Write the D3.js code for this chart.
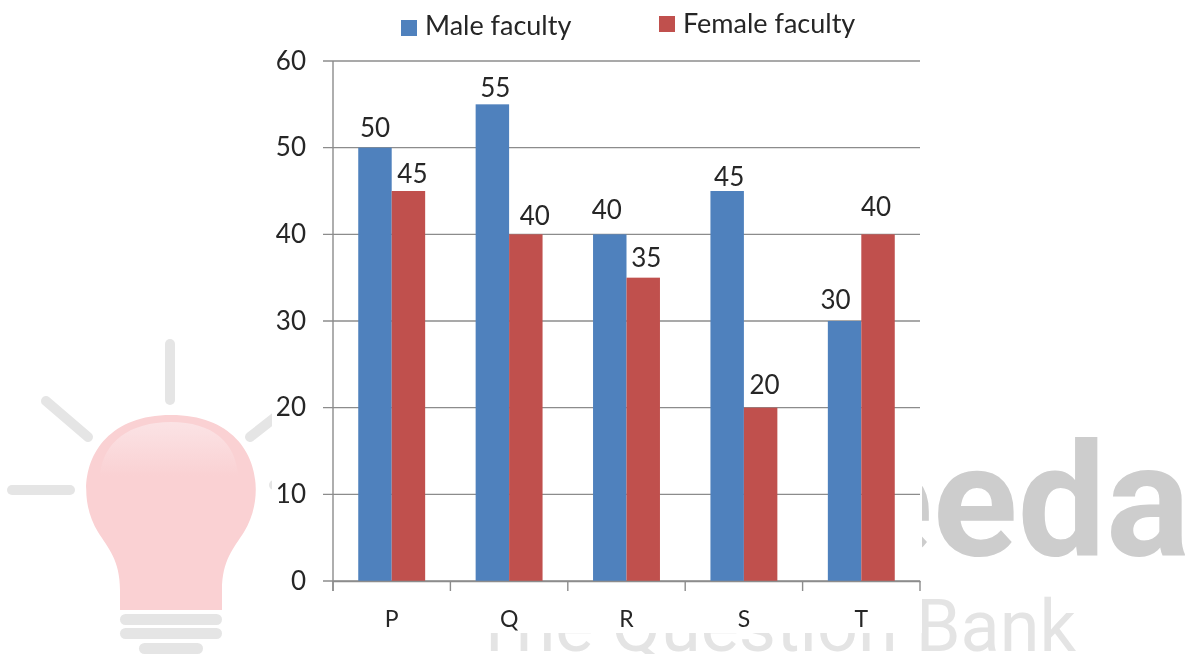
<!DOCTYPE html>
<html lang="en">
<head>
  <meta charset="UTF-8">
  <title>Faculty chart</title>
  <script src="https://d3js.org/d3.v7.min.js"></script>
  <style>
    html, body { margin: 0; padding: 0; background: #fff; overflow: hidden; }
    svg { filter: blur(0.45px); }
    text { font-family: Lato, "Open Sans", sans-serif; fill: #262626; }
  </style>
</head>
<body>
<div id="chartID"></div>
<script>
  var categories = ["P", "Q", "R", "S", "T"];
  var maleFaculty = [50, 55, 40, 45, 30];
  var femaleFaculty = [45, 40, 35, 20, 40];
  var seriesNames = ["Male faculty", "Female faculty"];
  var yTicks = [0, 10, 20, 30, 40, 50, 60];

  var colors = ["#4f81bd", "#c0504d"];
  var width = 1188, height = 654;
  var margin = {top: 61, right: 268, bottom: 73, left: 333};

  // the value labels are not evenly placed in the original: [dx, dy] per label
  var labelShift = [
    [[0, 0], [3, 4], [-3, -4], [2, 6], [-9, -1]],
    [[4, 3], [9, 2], [3, 0], [4, -3], [-2, -7]]
  ];

  var svg = d3.select("#chartID").append("svg")
    .attr("width", width)
    .attr("height", height)
    .style("display", "block");

  var grad = svg.append("defs").append("linearGradient")
    .attr("id", "bulbShine").attr("x1", 0).attr("y1", 0).attr("x2", 0).attr("y2", 1);
  grad.append("stop").attr("offset", "0%").attr("stop-color", "#fbe3e5");
  grad.append("stop").attr("offset", "100%").attr("stop-color", "#fad1d3");

  // watermark sits under the chart panel
  var mark = svg.append("g").attr("class", "watermark");
  mark.append("text").attr("x", 1190).attr("y", 555)
    .attr("text-anchor", "end")
    .style("font-family", "Roboto").style("font-weight", 700).style("font-size", "157px")
    .style("fill", "#cdcdcd").text("Speeda");
  mark.append("text").attr("x", 1076).attr("y", 651)
    .attr("text-anchor", "end")
    .style("font-family", "Roboto").style("font-size", "72px")
    .style("fill", "#e4e4e4").text("The Question Bank");

  // lightbulb
  var rays = [[170, 344, 170, 400], [46, 401, 88, 437], [296, 401, 250, 437], [12, 490, 70, 490], [274, 485, 330, 485]];
  mark.selectAll(".ray").data(rays).enter().append("line")
    .attr("class", "ray")
    .attr("x1", function(d) { return d[0]; }).attr("y1", function(d) { return d[1]; })
    .attr("x2", function(d) { return d[2]; }).attr("y2", function(d) { return d[3]; })
    .attr("stroke", "#e5e5e5").attr("stroke-width", 10).attr("stroke-linecap", "round");
  mark.append("path")
    .attr("d", "M120 610 L120 590 C120 560 108 548 98 532 C72 490 86 415 171 415 C256 415 270 490 244 532 C234 548 222 560 222 590 L222 610 Z")
    .attr("fill", "#fad1d3");
  mark.append("path")
    .attr("d", "M100 476 C102 442 130 422 171 422 C212 422 236 442 238 476 Z")
    .attr("fill", "url(#bulbShine)");
  var sockets = [[120, 614, 102], [120, 628, 102], [139, 643, 64]];
  mark.selectAll(".socket").data(sockets).enter().append("rect")
    .attr("class", "socket")
    .attr("x", function(d) { return d[0]; }).attr("y", function(d) { return d[1]; })
    .attr("width", function(d) { return d[2]; }).attr("height", 11).attr("rx", 5.5)
    .attr("fill", "#e5e5e5");

  // white chart panel covers the watermark
  svg.append("rect").attr("x", 272).attr("y", 0).attr("width", 650).attr("height", 633).attr("fill", "#fff");

  var innerW = width - margin.left - margin.right;
  var innerH = height - margin.top - margin.bottom;
  var chart = svg.append("g")
    .attr("transform", "translate(" + margin.left + "," + margin.top + ")");

  var xScale = d3.scaleBand().domain(categories).range([0, innerW]).paddingInner(0.43).paddingOuter(0.215);
  var xGroup = d3.scaleBand().domain(seriesNames).range([0, xScale.bandwidth()]);
  var yScale = d3.scaleLinear().domain([0, 60]).range([innerH, 0]);

  // gridlines
  chart.selectAll(".grid").data(yTicks).enter().append("line")
    .attr("class", "grid")
    .attr("x1", -10).attr("x2", innerW)
    .attr("y1", function(d) { return yScale(d); })
    .attr("y2", function(d) { return yScale(d); })
    .attr("stroke", "#8c8c8c").attr("stroke-width", 1.4);

  var series = [maleFaculty, femaleFaculty];
  series.forEach(function(values, s) {
    var name = seriesNames[s];
    var g = chart.append("g");
    g.selectAll("rect").data(values).enter().append("rect")
      .attr("x", function(d, i) { return xScale(categories[i]) + xGroup(name); })
      .attr("width", xGroup.bandwidth())
      .attr("y", function(d) { return yScale(d); })
      .attr("height", function(d) { return innerH - yScale(d); })
      .attr("fill", colors[s]);
    g.selectAll("text").data(values).enter().append("text")
      .attr("x", function(d, i) { return xScale(categories[i]) + xGroup(name) + xGroup.bandwidth() / 2 + labelShift[s][i][0]; })
      .attr("y", function(d, i) { return yScale(d) - 11 + labelShift[s][i][1]; })
      .attr("text-anchor", "middle")
      .style("font-size", "26px")
      .text(function(d) { return d; });
  });

  // axes
  var xAxis = d3.axisBottom(xScale).tickSize(0).tickPadding(30);
  var xAxis_g = chart.append("g").attr("transform", "translate(0," + innerH + ")").call(xAxis);
  xAxis_g.select(".domain").attr("stroke", "#8c8c8c").attr("stroke-width", 1.4);
  xAxis_g.selectAll("text").style("font-size", "23px");
  var step = xScale.step();
  xAxis_g.selectAll(".sep").data(d3.range(categories.length + 1)).enter().append("line")
    .attr("class", "sep")
    .attr("x1", function(d) { return d * step; }).attr("x2", function(d) { return d * step; })
    .attr("y1", 0).attr("y2", 10)
    .attr("stroke", "#8c8c8c").attr("stroke-width", 1.4);

  var yAxis = d3.axisLeft(yScale).tickValues(yTicks).tickSize(0).tickPadding(27);
  var yAxis_g = chart.append("g").call(yAxis);
  yAxis_g.select(".domain").remove();
  yAxis_g.selectAll("text").style("font-size", "26px");
  chart.append("line").attr("x1", 0).attr("x2", 0).attr("y1", 0).attr("y2", innerH + 10)
    .attr("stroke", "#8c8c8c").attr("stroke-width", 1.4);

  // legend
  var legendX = [401, 659];
  var legendBoxY = [20, 16];
  var legendTextY = [35, 33];
  var legend = svg.selectAll(".legend").data(seriesNames).enter().append("g").attr("class", "legend");
  legend.append("rect")
    .attr("x", function(d, i) { return legendX[i]; })
    .attr("y", function(d, i) { return legendBoxY[i]; })
    .attr("width", 16).attr("height", 16)
    .attr("fill", function(d, i) { return colors[i]; });
  legend.append("text")
    .attr("x", function(d, i) { return legendX[i] + 24; })
    .attr("y", function(d, i) { return legendTextY[i]; })
    .style("font-size", "27px")
    .text(function(d) { return d; });
</script>
</body>
</html>
